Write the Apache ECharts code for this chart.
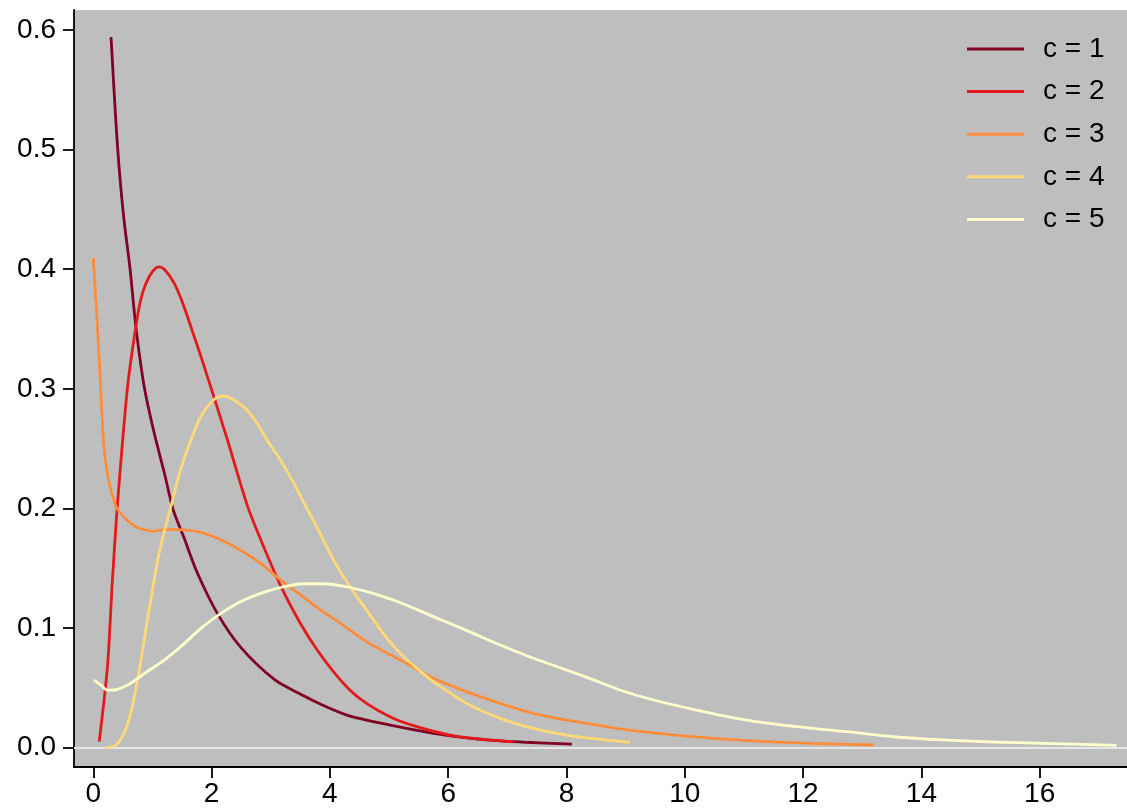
<!DOCTYPE html>
<html>
<head>
<meta charset="utf-8">
<title>Densities by c</title>
<script src="https://cdn.jsdelivr.net/npm/echarts@6/dist/echarts.min.js"></script>
<style>
  html, body { margin: 0; padding: 0; background: #ffffff; }
  #chart { width: 1127px; height: 812px; }
</style>
</head>
<body>
<div id="chart"></div>
<script>
// Curve values (x, density) for each c
const c1x = [0.30, 0.38, 0.44, 0.52, 0.62, 0.72, 0.86, 1.03, 1.20, 1.35, 1.53, 1.76, 2.10, 2.49, 3.06, 3.49, 3.90, 4.30, 4.90, 5.75, 6.59, 7.30, 8.09];
const c1y = [0.594, 0.525, 0.483, 0.441, 0.401, 0.352, 0.302, 0.263, 0.230, 0.199, 0.176, 0.146, 0.112, 0.084, 0.057, 0.045, 0.035, 0.027, 0.020, 0.012, 0.0066, 0.0045, 0.003];

const c2x = [0.10, 0.24, 0.32, 0.41, 0.58, 0.72, 0.80, 0.89, 1.00, 1.11, 1.20, 1.36, 1.51, 1.67, 1.84, 2.04, 2.27, 2.60, 2.83, 3.17, 3.50, 3.78, 4.06, 4.34, 4.62, 5.07, 5.47, 6.03, 6.59, 7.10];
const c2y = [0.005, 0.068, 0.137, 0.204, 0.302, 0.352, 0.374, 0.388, 0.398, 0.402, 0.400, 0.389, 0.372, 0.349, 0.324, 0.293, 0.257, 0.203, 0.174, 0.135, 0.104, 0.082, 0.0635, 0.048, 0.037, 0.0245, 0.0175, 0.0105, 0.0069, 0.0049];

const c3x = [0.00, 0.07, 0.13, 0.18, 0.24, 0.30, 0.38, 0.46, 0.63, 0.80, 1.03, 1.25, 1.53, 1.82, 2.10, 2.49, 2.83, 3.17, 3.52, 3.90, 4.06, 4.62, 5.19, 5.75, 6.31, 6.88, 7.44, 8.00, 8.57, 8.90, 9.92, 11.05, 12.17, 13.19];
const c3y = [0.409, 0.352, 0.296, 0.252, 0.229, 0.215, 0.202, 0.196, 0.1875, 0.183, 0.181, 0.1825, 0.182, 0.180, 0.175, 0.165, 0.154, 0.140, 0.127, 0.113, 0.108, 0.0886, 0.0732, 0.058, 0.0468, 0.037, 0.0287, 0.023, 0.0185, 0.0156, 0.010, 0.0058, 0.0036, 0.0022];

const c4x = [0.21, 0.38, 0.52, 0.63, 0.75, 0.86, 0.97, 1.11, 1.25, 1.32, 1.48, 1.65, 1.82, 2.04, 2.21, 2.43, 2.60, 2.77, 2.94, 3.17, 3.39, 3.59, 3.72, 4.06, 4.34, 4.62, 4.90, 5.19, 5.47, 5.75, 6.31, 6.88, 7.44, 8.00, 8.57, 9.07];
const c4y = [0.000, 0.002, 0.012, 0.0287, 0.0565, 0.090, 0.123, 0.162, 0.190, 0.203, 0.233, 0.257, 0.277, 0.291, 0.294, 0.289, 0.282, 0.271, 0.257, 0.240, 0.221, 0.202, 0.190, 0.157, 0.1345, 0.115, 0.0956, 0.0788, 0.0663, 0.0551, 0.037, 0.0245, 0.0161, 0.0105, 0.0069, 0.0044];

const c5x = [0.01, 0.13, 0.24, 0.41, 0.63, 0.91, 1.20, 1.48, 1.82, 2.15, 2.49, 2.89, 3.22, 3.56, 3.90, 4.28, 4.73, 5.07, 5.35, 5.75, 6.31, 6.88, 7.44, 8.00, 8.57, 8.90, 9.47, 10.20, 11.05, 11.89, 12.74, 13.52, 14.37, 15.22, 16.06, 17.30];
const c5y = [0.0565, 0.0523, 0.048, 0.0487, 0.0537, 0.0635, 0.0732, 0.0844, 0.0997, 0.112, 0.122, 0.130, 0.1345, 0.137, 0.137, 0.1345, 0.129, 0.1234, 0.118, 0.1095, 0.098, 0.0858, 0.0747, 0.0649, 0.0545, 0.0482, 0.0398, 0.0314, 0.023, 0.0175, 0.0133, 0.0091, 0.0064, 0.0047, 0.0036, 0.0019];

const seriesNames = ['c = 1', 'c = 2', 'c = 3', 'c = 4', 'c = 5'];
const seriesX = [c1x, c2x, c3x, c4x, c5x];
const seriesY = [c1y, c2y, c3y, c4y, c5y];
const palette = ['#800026', '#E31A1C', '#FD8D3C', '#FED976', '#FFFFCC'];

const xTicks = [0, 2, 4, 6, 8, 10, 12, 14, 16];
const yTicks = [0, 0.1, 0.2, 0.3, 0.4, 0.5, 0.6];

const FONT = '"Liberation Sans", Arial, sans-serif';

const chart = echarts.init(document.getElementById('chart'), null, { renderer: 'canvas' });

const series = seriesNames.map((name, i) => ({
  name: name,
  type: 'line',
  data: seriesX[i].map((x, j) => [x, seriesY[i][j]]),
  showSymbol: false,
  symbol: 'none',
  smooth: 0.3,
  lineStyle: { color: palette[i], width: 2.8 },
  itemStyle: { color: palette[i] },
  z: 3 + i,
  silent: true
}));

// pale reference line at zero
series[0].markLine = {
  silent: true,
  symbol: 'none',
  label: { show: false },
  lineStyle: { color: '#E6E6E6', width: 2, type: 'solid' },
  data: [{ yAxis: 0 }],
  z: 1
};

chart.setOption({
  animation: false,
  backgroundColor: '#ffffff',
  color: palette,
  grid: {
    left: 74, top: 10, right: 0, bottom: 45,
    show: true, backgroundColor: '#BEBEBE', borderWidth: 0
  },
  legend: {
    left: 967, top: 34,
    padding: 0,
    orient: 'vertical',
    icon: 'rect',
    itemWidth: 57, itemHeight: 3,
    itemGap: 12.6,
    selectedMode: false,
    textStyle: {
      fontFamily: FONT, fontSize: 28, color: '#000', lineHeight: 30,
      padding: [0, 0, 0, 14]
    },
    data: seriesNames
  },
  xAxis: {
    type: 'value',
    min: -0.326, max: 17.476,
    axisLine: { show: true, onZero: false, lineStyle: { color: '#000', width: 1.8 } },
    axisTick: { show: true, length: 11, lineStyle: { color: '#000', width: 1.8 }, customValues: xTicks },
    axisLabel: { fontFamily: FONT, fontSize: 28, color: '#000', margin: 13, customValues: xTicks, formatter: v => String(v) },
    splitLine: { show: false }
  },
  yAxis: {
    type: 'value',
    min: -0.0162, max: 0.6167,
    axisLine: { show: true, onZero: false, lineStyle: { color: '#000', width: 1.8 } },
    axisTick: { show: true, length: 11, lineStyle: { color: '#000', width: 1.8 }, customValues: yTicks },
    axisLabel: { fontFamily: FONT, fontSize: 28, color: '#000', margin: 18, customValues: yTicks, formatter: v => v.toFixed(1) },
    splitLine: { show: false }
  },
  series: series
});
</script>
</body>
</html>
